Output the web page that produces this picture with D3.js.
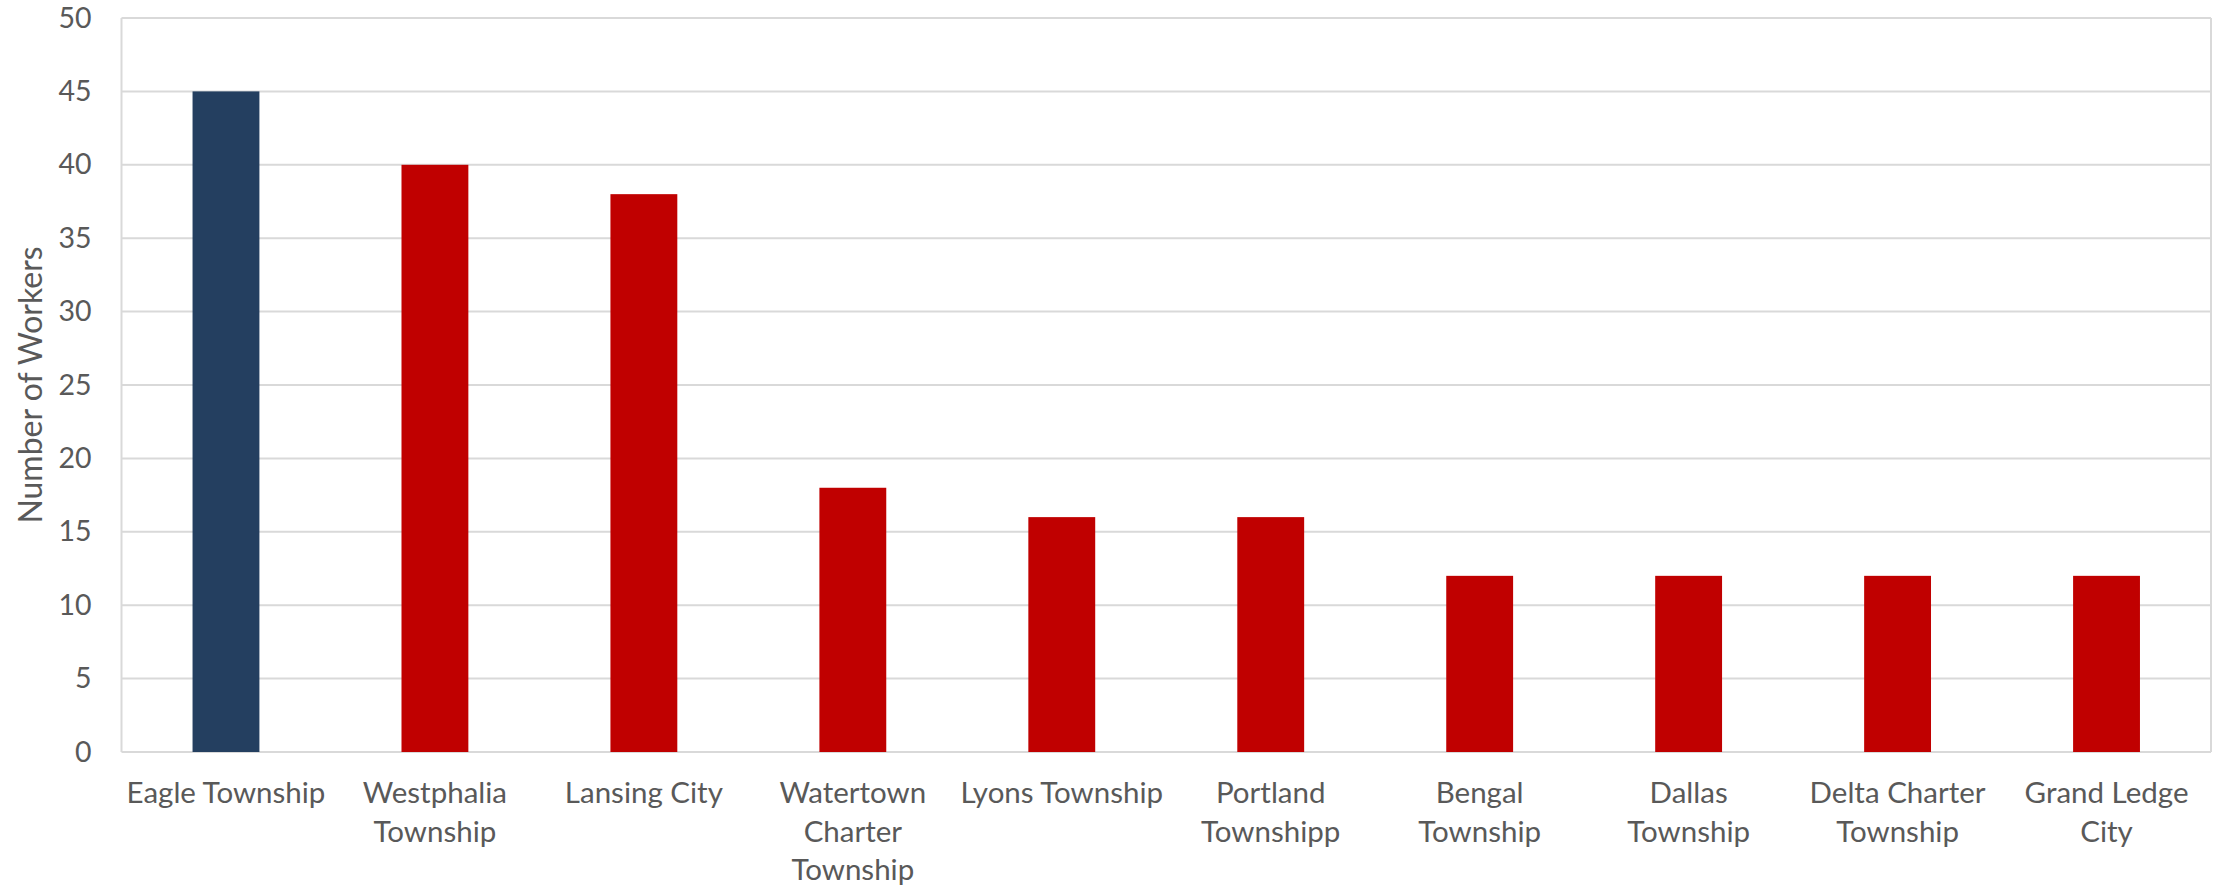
<!DOCTYPE html>
<html>
<head>
<meta charset="utf-8">
<script src="https://cdn.jsdelivr.net/npm/d3@7/dist/d3.min.js"></script>
<style>
  html, body { margin: 0; padding: 0; background: #ffffff; }
  svg { display: block; }
  text { font-family: Lato, "Open Sans", sans-serif; fill: #595959; }
</style>
</head>
<body>
<svg id="chart" width="2221" height="888"></svg>
<script>
const categories = ["Eagle Township", "Westphalia Township", "Lansing City", "Watertown Charter Township", "Lyons Township", "Portland Townshipp", "Bengal Township", "Dallas Township", "Delta Charter Township", "Grand Ledge City"];
const labelLines = [["Eagle Township"], ["Westphalia", "Township"], ["Lansing City"], ["Watertown", "Charter", "Township"], ["Lyons Township"], ["Portland", "Townshipp"], ["Bengal", "Township"], ["Dallas", "Township"], ["Delta Charter", "Township"], ["Grand Ledge", "City"]];
const values = [45, 40, 38, 18, 16, 16, 12, 12, 12, 12];
const barColors = ["#243F60", "#C00000", "#C00000", "#C00000", "#C00000", "#C00000", "#C00000", "#C00000", "#C00000", "#C00000"];
const yTicks = [0, 5, 10, 15, 20, 25, 30, 35, 40, 45, 50];
const yTitle = "Number of Workers";

const svg = d3.select("#chart");
const margin = { left: 121.5, right: 10, top: 18, bottom: 136 };
const W = 2221, H = 888;
const x0 = margin.left, x1 = W - margin.right;
const y0 = H - margin.bottom, y1 = margin.top;

const x = d3.scaleBand().domain(categories).range([x0, x1]).paddingInner(0.68).paddingOuter(0.34);
const y = d3.scaleLinear().domain([0, 50]).range([y0, y1]);

// gridlines
svg.append("g").selectAll("line").data(yTicks).join("line")
  .attr("x1", x0).attr("x2", x1)
  .attr("y1", d => y(d)).attr("y2", d => y(d))
  .attr("stroke", "#D9D9D9").attr("stroke-width", 2);

// plot border sides
svg.append("line").attr("x1", x0).attr("x2", x0).attr("y1", y1).attr("y2", y0)
  .attr("stroke", "#D9D9D9").attr("stroke-width", 2);
svg.append("line").attr("x1", x1).attr("x2", x1).attr("y1", y1).attr("y2", y0)
  .attr("stroke", "#D9D9D9").attr("stroke-width", 2);

// bars
svg.append("g").selectAll("rect").data(values).join("rect")
  .attr("x", (d, i) => x(categories[i]))
  .attr("width", x.bandwidth())
  .attr("y", d => y(d))
  .attr("height", d => y(0) - y(d))
  .attr("fill", (d, i) => barColors[i]);

// y axis
const yAxis = d3.axisLeft(y).tickValues(yTicks).tickSize(0).tickPadding(30);
const gy = svg.append("g").attr("transform", `translate(${x0},0)`).call(yAxis);
gy.select(".domain").remove();
gy.selectAll("text").attr("font-family", "Lato, 'Open Sans', sans-serif").attr("font-size", 28.5).attr("fill", "#595959");

// x labels
const xl = svg.append("g");
categories.forEach((c, i) => {
  const t = xl.append("text")
    .attr("x", x(c) + x.bandwidth() / 2)
    .attr("y", 803)
    .attr("text-anchor", "middle")
    .attr("font-size", 29.5);
  labelLines[i].forEach((ln, j) => {
    t.append("tspan").attr("x", x(c) + x.bandwidth() / 2).attr("y", 803 + j * 38.5).text(ln);
  });
});

// y title
svg.append("text")
  .attr("transform", `translate(42,${(y0 + y1) / 2}) rotate(-90)`)
  .attr("text-anchor", "middle")
  .attr("font-size", 32)
  .text(yTitle);
</script>
</body>
</html>
